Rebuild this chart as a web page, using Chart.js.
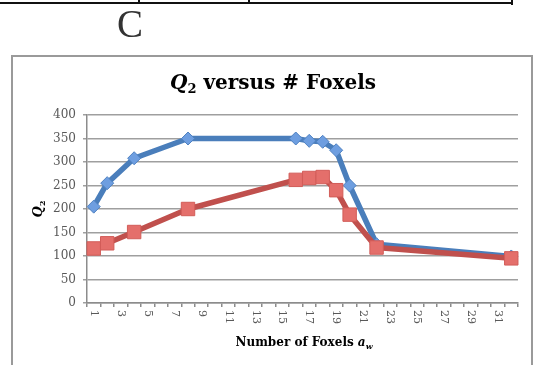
<!DOCTYPE html>
<html>
<head>
<meta charset="utf-8">
<script src="https://cdn.jsdelivr.net/npm/chart.js@4.4.1/dist/chart.umd.min.js"></script>
<style>
  html, body { margin: 0; padding: 0; background: #fff; overflow: hidden; }
  #wrap { position: absolute; left: 0; top: 0; width: 534px; height: 365px; }
</style>
</head>
<body>
<div id="wrap"><canvas id="c"></canvas></div>
<script>
// Number of foxels (category axis)
const categories = ['1','2','3','4','5','6','7','8','9','10','11','12','13','14','15','16',
                    '17','18','19','20','21','22','23','24','25','26','27','28','29','30','31','32'];
// Labels printed under the axis
const shownTicks = ['1','3','5','7','9','11','13','15','17','19','21','23','25','27','29','31'];
// Q2 values, blue series (null = no measurement at that foxel count)
const q2Blue = [205, 255, null, 308, null, null, null, 350,
                null, null, null, null, null, null, null, 350,
                345, 343, 325, 250, null, 125, null, null,
                null, null, null, null, null, null, null, 99];
// Q2 values, red series
const q2Red  = [116, 127, null, 151, null, null, null, 200,
                null, null, null, null, null, null, null, 262,
                266, 268, 240, 188, null, 118, null, null,
                null, null, null, null, null, null, null, 95];
// Value axis
const yMin = 0, yMax = 400, yStep = 50;

const SERIF = '"DejaVu Serif", "Liberation Serif", serif';

// draws a run of [text, font, dy] pieces starting at x
function drawRuns(ctx, runs, x, y) {
  for (const [t, f, dy] of runs) {
    ctx.font = f;
    ctx.fillText(t, x, y + dy);
    x += ctx.measureText(t).width;
  }
}
function runsWidth(ctx, runs) {
  let w = 0;
  for (const [t, f] of runs) { ctx.font = f; w += ctx.measureText(t).width; }
  return w;
}

const decor = {
  id: 'decor',
  beforeDraw(chart) {
    const ctx = chart.ctx;
    ctx.save();
    ctx.fillStyle = '#fff';
    ctx.fillRect(0, 0, chart.width, chart.height);
    // table rule above
    ctx.fillStyle = '#111';
    ctx.fillRect(0, 2, 513, 2);
    ctx.fillRect(138, 0, 2, 4);
    ctx.fillRect(248, 0, 2, 4);
    ctx.fillRect(511, 0, 2, 5);
    // panel letter
    ctx.fillStyle = '#333';
    ctx.font = '39px "Liberation Serif", serif';
    ctx.textBaseline = 'alphabetic';
    ctx.fillText('C', 117, 37);
    // chart frame
    ctx.strokeStyle = '#9a9a9a';
    ctx.lineWidth = 2;
    ctx.strokeRect(12, 56, 520, 330);
    ctx.restore();
  },
  afterDraw(chart) {
    const ctx = chart.ctx;
    const xs = chart.scales.x;
    ctx.save();
    // category labels, rotated clockwise
    ctx.fillStyle = '#595959';
    ctx.font = '11px ' + SERIF;
    ctx.textAlign = 'left';
    ctx.textBaseline = 'middle';
    categories.forEach((c, i) => {
      if (!shownTicks.includes(c)) return;
      const px = xs.getPixelForValue(i);
      ctx.save();
      ctx.translate(px, 310);
      ctx.rotate(Math.PI / 2);
      ctx.fillText(c, 0, 0);
      ctx.restore();
    });

    ctx.fillStyle = '#000';
    ctx.textAlign = 'left';
    ctx.textBaseline = 'alphabetic';
    // chart title
    const title = [
      ['Q', 'italic bold 20px ' + SERIF, 0],
      ['2', 'bold 13px ' + SERIF, 4],
      [' versus # Foxels', 'bold 20px ' + SERIF, 0]
    ];
    drawRuns(ctx, title, 273 - runsWidth(ctx, title) / 2, 89);

    // x axis title
    const xt = [
      ['Number of Foxels ', 'bold 12px ' + SERIF, 0],
      ['a', 'italic bold 12px ' + SERIF, 0],
      ['w', 'italic bold 8px ' + SERIF, 3]
    ];
    drawRuns(ctx, xt, 304 - runsWidth(ctx, xt) / 2, 346);

    // y axis title, rotated
    const yt = [
      ['Q', 'italic bold 13px ' + SERIF, 0],
      ['2', 'bold 8px ' + SERIF, 3]
    ];
    ctx.save();
    ctx.translate(42, 209);
    ctx.rotate(-Math.PI / 2);
    drawRuns(ctx, yt, -runsWidth(ctx, yt) / 2, 0);
    ctx.restore();
    ctx.restore();
  }
};

new Chart(document.getElementById('c'), {
  type: 'line',
  data: {
    labels: categories,
    datasets: [
      {
        label: 'Q2 (red)',
        data: q2Red,
        order: 0,
        spanGaps: true,
        tension: 0,
        borderColor: '#C0504D',
        borderWidth: 5.5,
        borderJoinStyle: 'round',
        pointStyle: 'rect',
        pointRadius: 9.5,
        pointHoverRadius: 9.5,
        pointBackgroundColor: '#E46F6B',
        pointBorderColor: '#D25D59',
        pointBorderWidth: 1
      },
      {
        label: 'Q2 (blue)',
        data: q2Blue,
        order: 1,
        spanGaps: true,
        tension: 0,
        borderColor: '#4A7EBB',
        borderWidth: 5.5,
        borderJoinStyle: 'round',
        pointStyle: 'rectRot',
        pointRadius: 6.5,
        pointHoverRadius: 6.5,
        pointBackgroundColor: '#6E9EE0',
        pointBorderColor: '#4F82C2',
        pointBorderWidth: 1
      }
    ]
  },
  options: {
    responsive: true,
    maintainAspectRatio: false,
    animation: false,
    devicePixelRatio: 1,
    layout: { padding: { left: 0, top: 115, right: 16, bottom: 0 } },
    plugins: { legend: { display: false }, title: { display: false }, tooltip: { enabled: false } },
    scales: {
      x: {
        type: 'category',
        offset: true,
        grid: { offset: true, drawOnChartArea: false, drawTicks: true, tickLength: 4, color: '#8c8c8c', lineWidth: 1.5 },
        border: { display: true, color: '#8c8c8c', width: 1.5 },
        ticks: { display: false, autoSkip: false },
        afterFit(s) { s.height = 62; }
      },
      y: {
        min: yMin,
        max: yMax,
        ticks: { stepSize: yStep, color: '#595959', font: { family: SERIF, size: 12 }, padding: 7 },
        grid: { color: '#9f9f9f', lineWidth: 1.5, tickLength: 4 },
        border: { display: true, color: '#8c8c8c', width: 1.5 },
        afterFit(s) { s.width = 87; }
      }
    }
  },
  plugins: [decor]
});
</script>
</body>
</html>
